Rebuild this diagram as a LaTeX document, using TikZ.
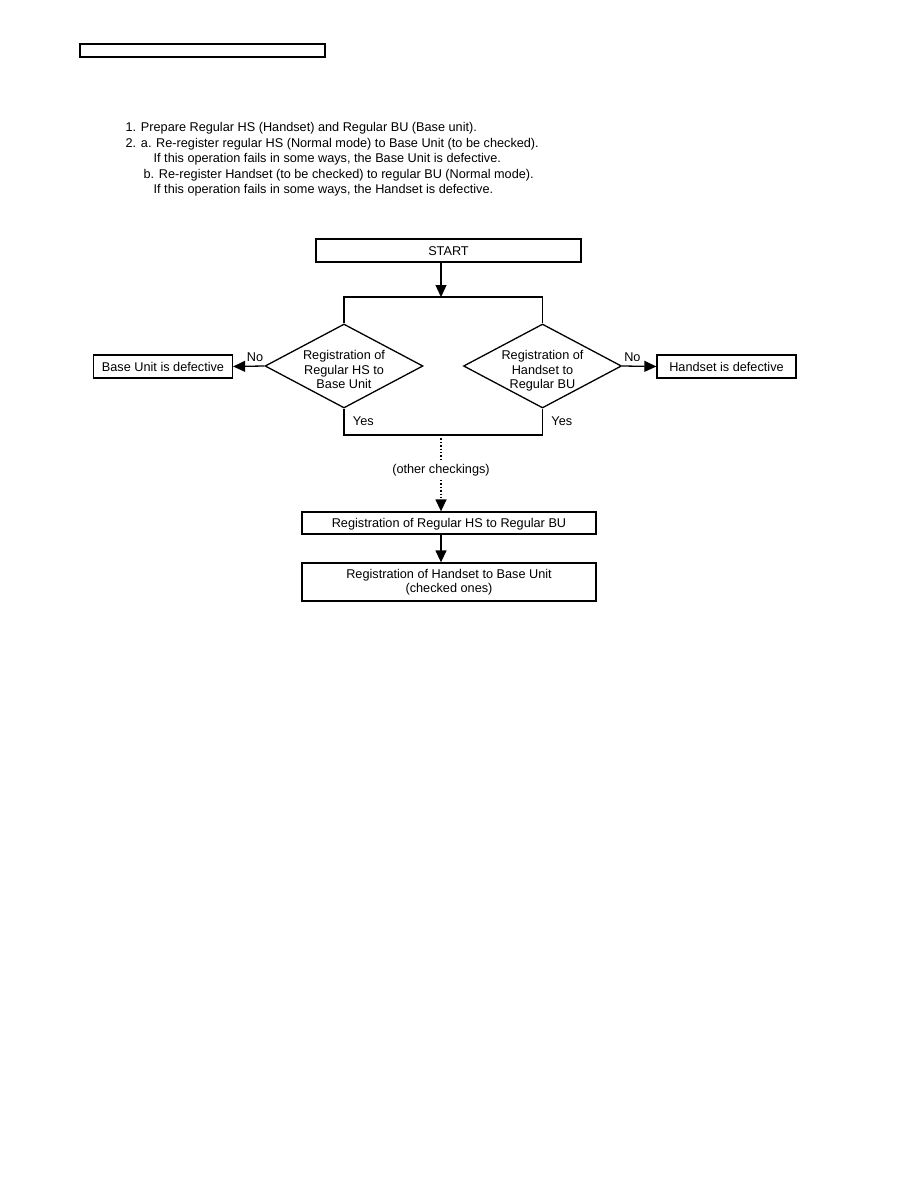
\documentclass[tikz,border=0pt]{standalone}
\usepackage{fontspec}
\setmainfont{Liberation Sans}
\usetikzlibrary{shapes.geometric, arrows.meta, positioning}

\begin{document}
\begin{tikzpicture}[x=1pt, y=-1pt, line width=1.3pt, font=\fontsize{12.7}{14.5}\selectfont,
        caja/.style={rectangle, draw, inner sep=0pt, align=center},
        uno/.style={text height=9.2pt, text depth=0pt},
        rombo/.style={diamond, draw, minimum width=158pt, minimum height=84pt},
        texto/.style={align=center, inner sep=0pt, yshift=-6pt},
        linea/.style={anchor=base west, inner sep=0pt},
        flecha/.style={-{Triangle[length=12pt, width=11pt]}}]
    \useasboundingbox (0,0) rectangle (918,1188);
    % marco superior
    \draw[line width=1.4pt] (80,44) rectangle (325,57);
    % instrucciones
    \node[linea] (l1) at (125,131.5) {1. Prepare Regular HS (Handset) and Regular BU (Base unit).};
    \node[linea] (l2) at (125,147) {2. a. Re-register regular HS (Normal mode) to Base Unit (to be checked).};
    \node[linea] (l3) at (153,162.5) {If this operation fails in some ways, the Base Unit is defective.};
    \node[linea] (l4) at (143,178) {b. Re-register Handset (to be checked) to regular BU (Normal mode).};
    \node[linea] (l5) at (153,193.5) {If this operation fails in some ways, the Handset is defective.};
    % diagrama
    \node[caja, uno, minimum width=265pt, minimum height=23pt] (start) at (448.5,250.5) {START};
    \coordinate (arriba) at (441,297);
    \node[rombo, label={[texto]center:Registration of\\Regular HS to\\Base Unit\strut}] (regHS) at (344,366) {};
    \node[rombo, label={[texto]center:Registration of\\Handset to\\Regular BU\strut}] (regBU) at (542.5,366) {};
    \node[caja, uno, minimum width=139pt, minimum height=23pt] (bud) at (163,366.5) {Base Unit is defective};
    \node[caja, uno, minimum width=139pt, minimum height=23pt] (hsd) at (726.5,366.5) {Handset is defective};
    \coordinate (abajo) at (441,435);
    \node[caja, uno, minimum width=294pt, minimum height=22pt] (regHB) at (449,523) {Registration of Regular HS to Regular BU};
    \node[caja, minimum width=294pt, minimum height=38pt] (regHU) at (449,582) {Registration of Handset to Base Unit\\(checked ones)};
    \draw[flecha] (start.south -| arriba) -- (arriba);
    \draw (regHS.north) |- (arriba) -| (regBU.north);
    \draw[flecha] (regHS.west) -- node[above, pos=0.3, yshift=1pt] {No} (bud.east);
    \draw[flecha] (regBU.east) -- node[above, pos=0.3, yshift=1pt] {No} (hsd.west);
    \draw (regHS.south) |- (abajo) -| (regBU.south);
    \node[right=5pt of regHS.south, anchor=north west, yshift=-4pt] {Yes};
    \node[right=5pt of regBU.south, anchor=north west, yshift=-4pt] {Yes};
    \node (otras) at (441,470) {(other checkings)};
    \draw[dotted, line width=1.4pt] (abajo) -- (otras.north);
    \draw[dotted, line width=1.4pt, flecha] (otras.south) -- (regHB.north -| abajo);
    \draw[flecha] (regHB.south -| abajo) -- (regHU.north -| abajo);
\end{tikzpicture}
\end{document}
